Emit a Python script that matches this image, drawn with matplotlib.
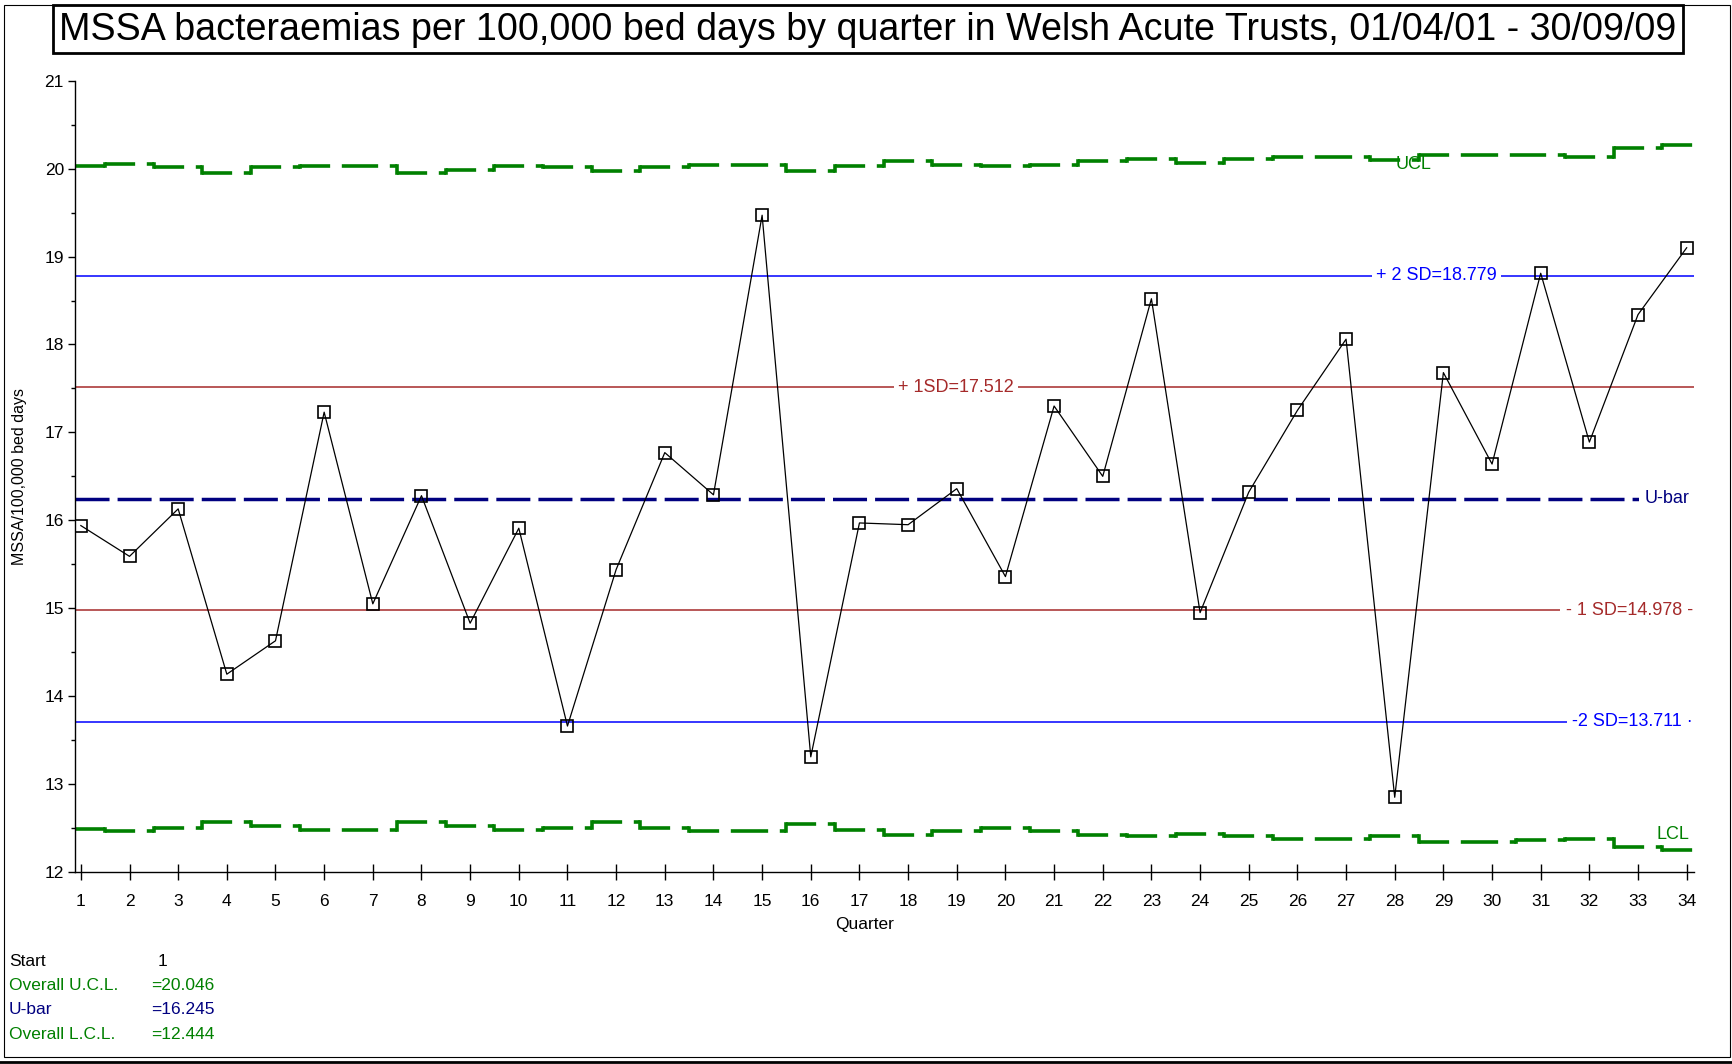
import numpy as np
import matplotlib.pyplot as plt
from matplotlib.patches import Rectangle
from matplotlib.lines import Line2D
from matplotlib.ticker import MultipleLocator

plt.rcParams['font.family'] = ['Liberation Sans', 'DejaVu Sans']
plt.rcParams['lines.scale_dashes'] = False

# DATA
quarters = list(range(1, 35))
rate = [15.94, 15.59, 16.13, 14.25, 14.63, 17.23, 15.05, 16.28, 14.83, 15.91,
        13.66, 15.44, 16.77, 16.29, 19.47, 13.31, 15.97, 15.95, 16.36, 15.36,
        17.30, 16.50, 18.52, 14.95, 16.32, 17.25, 18.06, 12.85, 17.68, 16.64,
        18.81, 16.89, 18.34, 19.10]
ucl = [20.03, 20.05, 20.015, 19.95, 20.015, 20.03, 20.03, 19.95, 19.99, 20.03,
       20.015, 19.97, 20.015, 20.045, 20.045, 19.97, 20.03, 20.09, 20.045, 20.03,
       20.045, 20.09, 20.11, 20.065, 20.11, 20.13, 20.13, 20.095, 20.16, 20.16,
       20.16, 20.13, 20.23, 20.27]
lcl = [12.49, 12.47, 12.50, 12.565, 12.52, 12.48, 12.48, 12.565, 12.52, 12.48,
       12.50, 12.565, 12.50, 12.465, 12.465, 12.55, 12.48, 12.425, 12.465, 12.50,
       12.465, 12.425, 12.41, 12.435, 12.41, 12.38, 12.38, 12.41, 12.34, 12.34,
       12.36, 12.375, 12.28, 12.245]
u_bar = 16.245
plus_1sd = 17.512
minus_1sd = 14.978
plus_2sd = 18.779
minus_2sd = 13.711
overall_ucl = 20.046
overall_lcl = 12.444

TITLE = 'MSSA bacteraemias per 100,000 bed days by quarter in Welsh Acute Trusts, 01/04/01 - 30/09/09'

GREEN = '#008000'
NAVY = '#000080'
DARKRED = '#a52a2a'
BLUE = '#0000ff'

W, H = 1733, 1064
X_LO, X_HI = 0.88, 34.15


def fx(px):
    return px / W


def fy(py):
    return 1 - py / H


def draw_limit(ax, values):
    # every quarter gets its own horizontal piece, so the dash gap sits
    # at the same place inside each quarter
    left = np.concatenate([[X_LO], np.arange(1.5, 34, 1.0)])
    right = np.concatenate([np.arange(1.5, 34, 1.0), [X_HI]])
    dash = (0, (21.7, 8.4, 40, 1))
    styles = ['solid'] + [dash] * (len(values) - 1)
    ax.hlines(values, left, right, colors=GREEN, linewidth=2.6,
              linestyles=styles, zorder=2)
    steps = np.arange(1.5, 34, 1.0)
    ax.vlines(steps, values[:-1], values[1:], colors=GREEN, linewidth=2.6,
              capstyle='projecting', zorder=2)


fig = plt.figure(figsize=(W / 100, H / 100), dpi=100)
ax = fig.add_axes([fx(75), fy(872), fx(1694) - fx(75), fy(80.7) - fy(872)])

draw_limit(ax, ucl)
draw_limit(ax, lcl)

# sd lines and centre line
ax.axhline(plus_2sd, color=BLUE, linewidth=1.1, zorder=1)
ax.axhline(minus_2sd, color=BLUE, linewidth=1.1, zorder=1)
ax.axhline(plus_1sd, color=DARKRED, linewidth=1.1, zorder=1)
ax.axhline(minus_1sd, color=DARKRED, linewidth=1.1, zorder=1)
ax.axhline(u_bar, color=NAVY, linewidth=2.5, linestyle=(0, (24.5, 5.8)), zorder=1)

# data
ax.plot(quarters, rate, color='black', linewidth=0.9, marker='s', markersize=8.5,
        markerfacecolor='none', markeredgecolor='black', markeredgewidth=1.2, zorder=4)

# line labels
box = dict(facecolor='white', edgecolor='none', pad=3)
rbox = dict(facecolor='white', edgecolor='none', pad=4)
ax.text(18.99, plus_1sd, '+ 1SD=17.512', color=DARKRED, fontsize=13,
        ha='center', va='center', bbox=box, zorder=3)
ax.text(28.85, plus_2sd, '+ 2 SD=18.779', color=BLUE, fontsize=13,
        ha='center', va='center', bbox=box, zorder=3)
ax.text(X_HI - 0.02, minus_1sd, '- 1 SD=14.978 -', color=DARKRED, fontsize=13,
        ha='right', va='center', bbox=rbox, zorder=3)
ax.text(X_HI - 0.02, minus_2sd, '-2 SD=13.711 \u00b7', color=BLUE, fontsize=13,
        ha='right', va='center', bbox=rbox, zorder=3)
ax.text(X_HI - 0.1, u_bar, 'U-bar', color=NAVY, fontsize=13,
        ha='right', va='center', bbox=rbox, zorder=3)
ax.text(28.38, 20.044, 'UCL', color=GREEN, fontsize=13, ha='center', va='center', zorder=3)
ax.text(X_HI - 0.1, 12.424, 'LCL', color=GREEN, fontsize=13, ha='right', va='center', zorder=3)

# axes styling
ax.set_xlim(X_LO, X_HI)
ax.set_ylim(12, 21)
ax.set_xticks(quarters)
ax.yaxis.set_major_locator(MultipleLocator(1))
ax.yaxis.set_minor_locator(MultipleLocator(0.5))
ax.spines['top'].set_visible(False)
ax.spines['right'].set_visible(False)
ax.spines['left'].set_linewidth(1.0)
ax.spines['bottom'].set_linewidth(1.0)
ax.tick_params(axis='x', direction='inout', length=11, width=1.0, labelsize=12.5, pad=10)
ax.tick_params(axis='y', which='major', direction='out', length=5, width=1.0, labelsize=12.5, pad=3)
ax.tick_params(axis='y', which='minor', direction='out', length=3, width=1.0)
ax.set_facecolor('none')

fig.text(fx(865), fy(925), 'Quarter', fontsize=12.5, ha='center', va='center')
fig.text(fx(20), fy(476), 'MSSA/100,000 bed days', fontsize=11.5, rotation=90,
         ha='center', va='center')

# info block
fig.text(fx(9), fy(961), 'Start', fontsize=12.5, va='center')
fig.text(fx(163), fy(961), '1', fontsize=12.5, va='center', ha='center')
fig.text(fx(9), fy(986), 'Overall U.C.L.', fontsize=12.5, va='center', color=GREEN)
fig.text(fx(151), fy(986), '=%.3f' % overall_ucl, fontsize=12.5, va='center', color=GREEN)
fig.text(fx(9), fy(1010), 'U-bar', fontsize=12.5, va='center', color=NAVY)
fig.text(fx(151), fy(1010), '=%.3f' % u_bar, fontsize=12.5, va='center', color=NAVY)
fig.text(fx(9), fy(1034.5), 'Overall L.C.L.', fontsize=12.5, va='center', color=GREEN)
fig.text(fx(151), fy(1034.5), '=%.3f' % overall_lcl, fontsize=12.5, va='center', color=GREEN)

# title in a box, sized to fit the box width
title = fig.text(fx(868), fy(30), TITLE, fontsize=24, ha='center', va='center',
                 family=['Liberation Sans Narrow', 'Liberation Sans', 'DejaVu Sans'])
fig.canvas.draw()
tw = title.get_window_extent().width
title.set_fontsize(24 * 1612 / tw)
fig.add_artist(Rectangle((fx(53), fy(53)), fx(1683) - fx(53), fy(5) - fy(53),
                         transform=fig.transFigure, fill=False, edgecolor='black',
                         linewidth=2.0))

# outer frame
fig.add_artist(Rectangle((fx(4), fy(1057)), fx(1730) - fx(4), fy(5) - fy(1057),
                         transform=fig.transFigure, fill=False, edgecolor='black',
                         linewidth=0.8))
fig.add_artist(Line2D([0, 1], [fy(1062), fy(1062)], transform=fig.transFigure,
                      color='black', linewidth=2.0))

fig.savefig('out.png', dpi=100)
